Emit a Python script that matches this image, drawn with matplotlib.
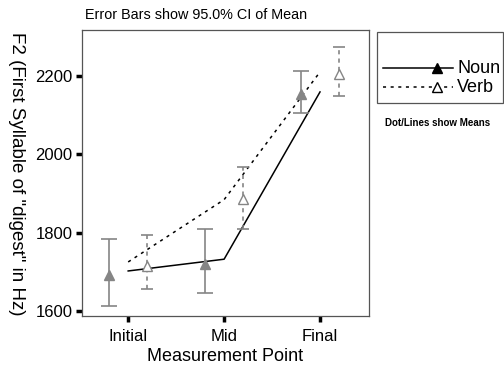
import matplotlib
matplotlib.use("Agg")
import numpy as np
import matplotlib.pyplot as plt
from matplotlib.lines import Line2D
from matplotlib.patches import Rectangle

plt.rcParams['font.family'] = ['Liberation Sans', 'DejaVu Sans']

# Data
categories = ["Initial", "Mid", "Final"]

# group means and 95% CI bounds (error bar points)
noun_mean = [1692, 1720, 2154]
noun_low = [1613, 1646, 2106]
noun_high = [1784, 1809, 2213]

verb_mean = [1715, 1886, 2205]
verb_low = [1656, 1809, 2149]
verb_high = [1794, 1968, 2274]

# mean lines drawn at the category centres
noun_line = [1702, 1732, 2159]
verb_line = [1725, 1884, 2210]

y_ticks = [1600, 1800, 2000, 2200]

GRAY = "#858585"
OFFSET = 0.2

fig = plt.figure(figsize=(5.04, 3.69), dpi=100)
ax = fig.add_axes([0.163, 0.1436, 0.569, 0.775])

x = np.arange(len(categories))

# mean lines
ax.plot(x, noun_line, color="black", lw=1.1, ls="-")
ax.plot(x, verb_line, color="black", lw=1.1, ls=(0, (2, 3)))

# error bars with markers
nm = np.array(noun_mean)
ax.errorbar(x - OFFSET, nm, yerr=[nm - np.array(noun_low), np.array(noun_high) - nm],
            fmt="^", color=GRAY, mfc=GRAY, mec=GRAY, ms=7, capsize=6,
            elinewidth=1.2, capthick=1.2)

vm = np.array(verb_mean)
eb = ax.errorbar(x + OFFSET, vm, yerr=[vm - np.array(verb_low), np.array(verb_high) - vm],
                 fmt="^", color=GRAY, mfc="white", mec=GRAY, ms=7, capsize=4.5,
                 elinewidth=1.2, capthick=1.2)
for col in eb[2]:
    col.set_linestyle((0, (2.5, 2.5)))

ax.set_xlim(-0.48, 2.51)
ax.set_ylim(1587, 2317)
ax.set_xticks(x)
ax.set_xticklabels(categories, fontsize=12)
ax.set_yticks(y_ticks)
ax.set_yticklabels([str(v) for v in y_ticks], fontsize=12)
ax.tick_params(axis="both", direction="out", length=4, width=2.5, color="black", pad=5)
ax.tick_params(axis="y", pad=3)
for sp in ax.spines.values():
    sp.set_color("#555555")
    sp.set_linewidth(0.9)

ax.set_xlabel("Measurement Point", fontsize=13, labelpad=3)
fig.text(0.032, 0.53, 'F2 (First Syllable of "digest" in Hz)', rotation=-90,
         ha="center", va="center", fontsize=13.5)
fig.text(0.169, 0.958, "Error Bars show 95.0% CI of Mean", fontsize=10.4,
         ha="left", va="center")

# legend box drawn by hand
fig.add_artist(Rectangle((0.748, 0.7209), 0.25, 0.1924, transform=fig.transFigure,
                         fill=False, edgecolor="#555555", lw=0.9))
fig.add_artist(Line2D([0.760, 0.899], [0.8157, 0.8157], color="black", lw=1.1))
fig.add_artist(Line2D([0.867], [0.8157], marker="^", color="black", ms=7))
fig.add_artist(Line2D([0.760, 0.899], [0.7642, 0.7642], color="black", lw=1.1,
                      ls=(0, (2, 3))))
fig.add_artist(Line2D([0.867], [0.7642], marker="^", color="black", mfc="white", ms=7))
fig.text(0.907, 0.8157, "Noun", fontsize=13, ha="left", va="center")
fig.text(0.907, 0.7642, "Verb", fontsize=13, ha="left", va="center")
fig.text(0.764, 0.667, "Dot/Lines show Means", fontsize=7, fontweight="bold",
         ha="left", va="center")

fig.savefig("out.png", dpi=100)
